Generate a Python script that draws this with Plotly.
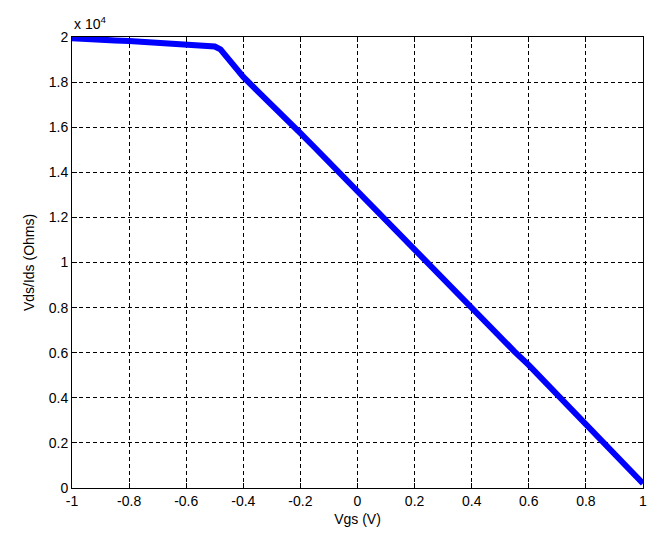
import plotly.graph_objects as go

vgs = [-1.00, -0.95, -0.90, -0.85, -0.80, -0.75, -0.70, -0.65, -0.60, -0.55, -0.52,
       -0.50, -0.48, -0.45, -0.40, -0.35, -0.30, -0.25, -0.20, -0.15, -0.10, -0.05,
       0.00, 0.05, 0.10, 0.15, 0.20, 0.25, 0.30, 0.35, 0.40, 0.45, 0.50, 0.55,
       0.60, 0.65, 0.70, 0.75, 0.80, 0.85, 0.90, 0.95, 1.00]
res_e4 = [1.995, 1.990, 1.988, 1.985, 1.982, 1.978, 1.975, 1.972, 1.970, 1.968, 1.965,
          1.958, 1.945, 1.900, 1.823, 1.760, 1.700, 1.635, 1.574, 1.510, 1.445, 1.380,
          1.315, 1.250, 1.185, 1.120, 1.055, 0.990, 0.930, 0.865, 0.800, 0.735, 0.670, 0.605,
          0.545, 0.480, 0.415, 0.350, 0.285, 0.220, 0.155, 0.090, 0.020]
res = [v * 1e4 for v in res_e4]

xticks = [-1, -0.8, -0.6, -0.4, -0.2, 0, 0.2, 0.4, 0.6, 0.8, 1]
xticklabels = ["-1", "-0.8", "-0.6", "-0.4", "-0.2", "0", "0.2", "0.4", "0.6", "0.8", "1"]
yticks = [0, 2000, 4000, 6000, 8000, 10000, 12000, 14000, 16000, 18000, 20000]
yticklabels = ["0", "0.2", "0.4", "0.6", "0.8", "1", "1.2", "1.4", "1.6", "1.8", "2"]

fig = go.Figure()
fig.add_trace(go.Scatter(x=vgs, y=res, mode="lines",
                         line=dict(color="#0000FF", width=6), showlegend=False))

font = dict(family="Liberation Sans, Arial, sans-serif", size=14, color="black")
axis_common = dict(showline=True, linecolor="black", linewidth=1, mirror="ticks",
                   ticks="inside", ticklen=5, tickcolor="black",
                   showgrid=True, gridcolor="black", griddash="4px,3px", gridwidth=1,
                   zeroline=False, tickfont=font, automargin=False)

# page body has an 8px default margin; figure sized/offset to compensate
fig.update_layout(
    width=654, height=539,
    paper_bgcolor="white", plot_bgcolor="white",
    margin=dict(l=64, r=19, t=29, b=59),
    font=font,
    xaxis=dict(range=[-1, 1], tickvals=xticks, ticktext=xticklabels,
               title=dict(text="Vgs (V)", font=font, standoff=6), **axis_common),
    yaxis=dict(range=[0, 20000], tickvals=yticks, ticktext=yticklabels,
               title=dict(text="Vds/Ids (Ohms)", font=font, standoff=10), **axis_common),
    annotations=[dict(text="x 10<sup>4</sup>", xref="paper", yref="paper",
                      x=0, y=1, xanchor="left", yanchor="bottom", yshift=3,
                      showarrow=False, font=font)],
)

fig.write_html("out.html")
